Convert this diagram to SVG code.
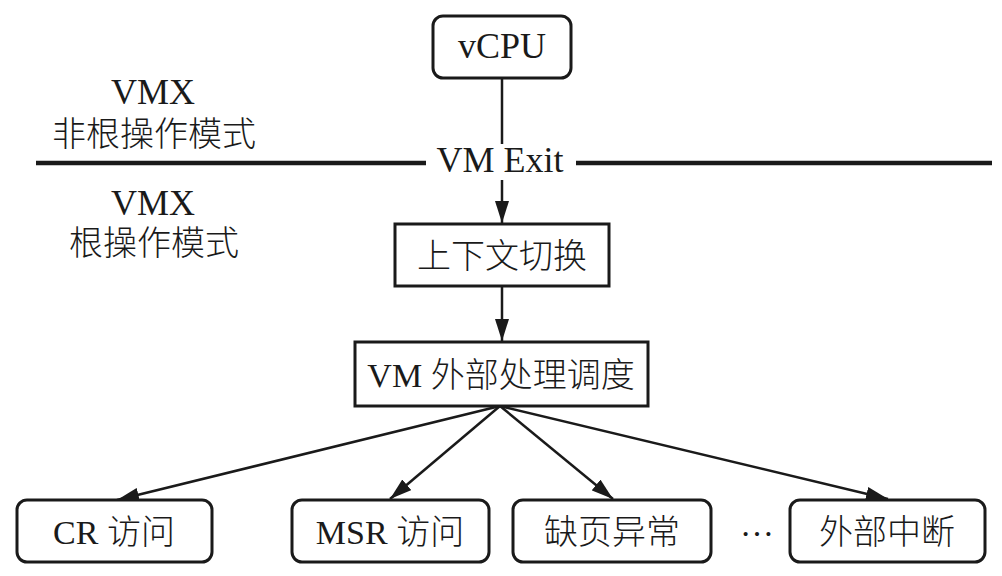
<svg xmlns="http://www.w3.org/2000/svg" width="1002" height="576" viewBox="0 0 1002 576">
<style>
.box{fill:#fff;stroke:#1a1a1a;stroke-width:3}
.t{font-family:"Liberation Serif","Noto Sans CJK SC",serif;font-size:34px;font-weight:300;fill:#1a1a1a;text-anchor:middle;dominant-baseline:central}
.l{font-size:36px}
.c{stroke:#1a1a1a;stroke-width:2.5;fill:none}
</style>
<defs>
<marker id="ah" viewBox="0 0 22 14" refX="22" refY="7" markerWidth="22" markerHeight="14" markerUnits="userSpaceOnUse" orient="auto">
<path d="M0,0 L22,7 L0,14 Z" fill="#1a1a1a"/>
</marker>
</defs>
<rect width="1002" height="576" fill="#fff"/>
<g id="labels">
<text class="t l" x="153" y="92">VMX</text>
<text class="t" x="154" y="134">非根操作模式</text>
<text class="t l" x="153" y="203">VMX</text>
<text class="t" x="154" y="243">根操作模式</text>
<text class="t l" x="500" y="160">VM Exit</text>
<text class="t" x="757" y="524">…</text>
</g>
<g id="boundary">
<line x1="36" y1="163" x2="426" y2="163" stroke="#1a1a1a" stroke-width="4.5"/>
<line x1="576" y1="163" x2="992" y2="163" stroke="#1a1a1a" stroke-width="4.5"/>
</g>
<g id="connectors">
<line class="c" x1="502" y1="78" x2="502" y2="144"/>
<line class="c" x1="502" y1="180" x2="502" y2="223" marker-end="url(#ah)"/>
<line class="c" x1="502" y1="286" x2="502" y2="341" marker-end="url(#ah)"/>
<line class="c" x1="500" y1="406" x2="117" y2="500" marker-end="url(#ah)"/>
<line class="c" x1="500" y1="406" x2="390" y2="499" marker-end="url(#ah)"/>
<line class="c" x1="500" y1="406" x2="613" y2="499" marker-end="url(#ah)"/>
<line class="c" x1="500" y1="406" x2="888" y2="499" marker-end="url(#ah)"/>
</g>
<g id="vcpu">
<rect class="box" x="433" y="16" width="138" height="62" rx="10"/>
<text class="t l" x="502" y="46">vCPU</text>
</g>
<g id="ctx">
<rect class="box" x="395" y="224" width="214" height="62"/>
<text class="t" x="502" y="256">上下文切换</text>
</g>
<g id="sched">
<rect class="box" x="355" y="342" width="293" height="64"/>
<text class="t" x="501" y="375">VM 外部处理调度</text>
</g>
<g id="cr">
<rect class="box" x="17" y="500" width="195" height="62" rx="10"/>
<text class="t" x="114" y="532">CR 访问</text>
</g>
<g id="msr">
<rect class="box" x="292" y="500" width="197" height="62" rx="10"/>
<text class="t" x="390" y="532">MSR 访问</text>
</g>
<g id="pf">
<rect class="box" x="513" y="500" width="198" height="62" rx="10"/>
<text class="t" x="612" y="532">缺页异常</text>
</g>
<g id="ext">
<rect class="box" x="790" y="500" width="195" height="62" rx="10"/>
<text class="t" x="887" y="532">外部中断</text>
</g>
</svg>
